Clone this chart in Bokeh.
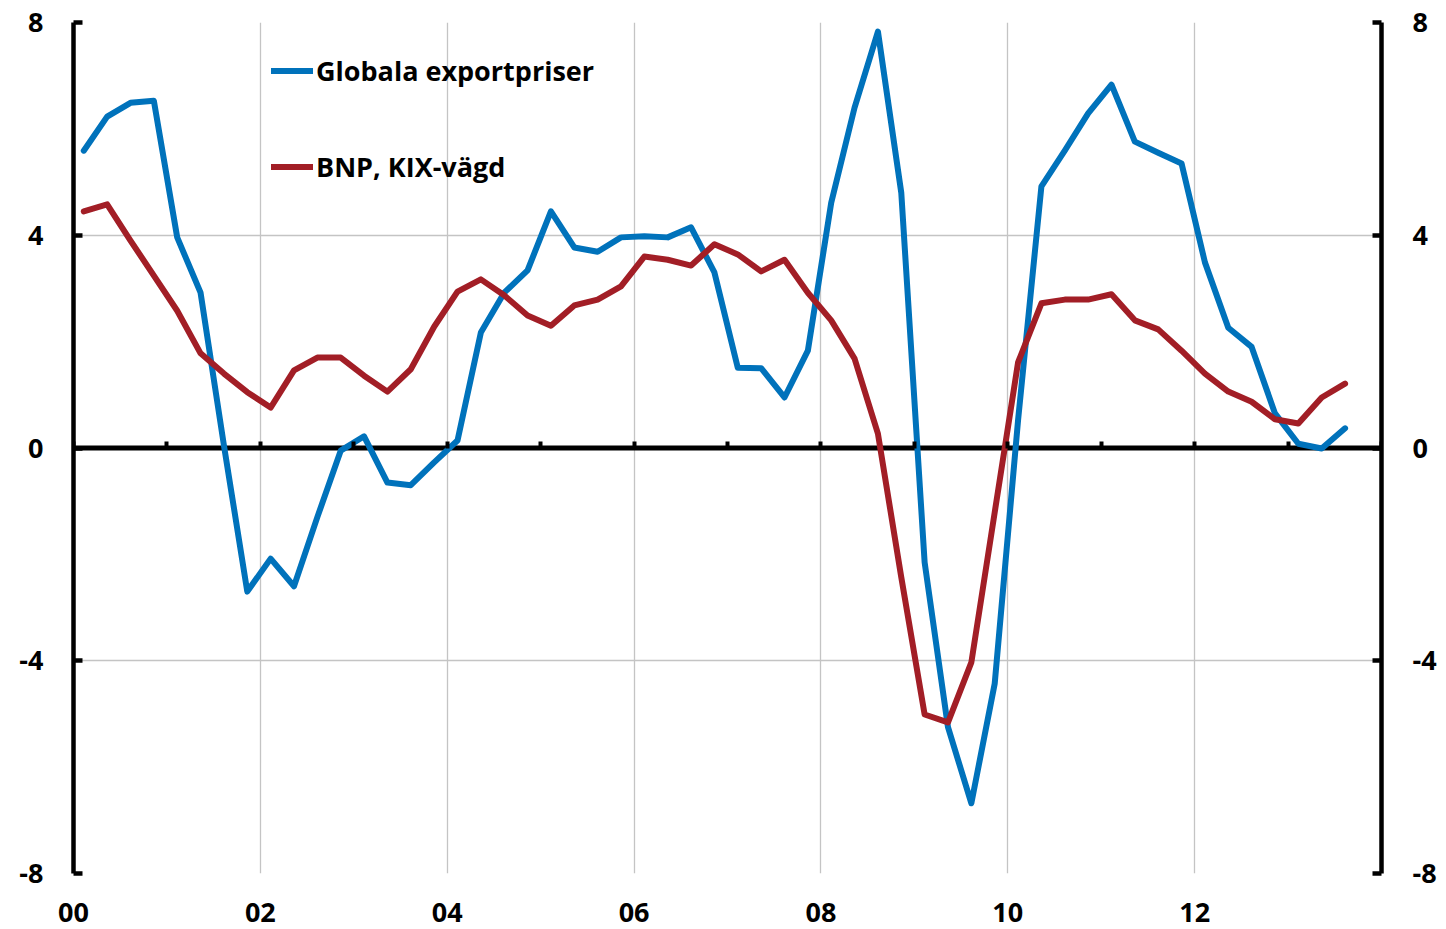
from bokeh.plotting import figure
from bokeh.models import (LinearAxis, FixedTicker, Range1d, Span, Legend, LegendItem)
from bokeh.embed import file_html
from bokeh.resources import INLINE

# ---- data ----
start_year = 2000
globala_exportpriser = [
    5.59, 6.23, 6.49, 6.53,
    3.96, 2.92, 0.05, -2.70,
    -2.08, -2.60, -1.30, -0.05,
    0.22, -0.65, -0.70, -0.27,
    0.14, 2.17, 2.92, 3.34,
    4.45, 3.77, 3.69, 3.96,
    3.98, 3.96, 4.15, 3.30,
    1.51, 1.50, 0.95, 1.83,
    4.61, 6.40, 7.83, 4.80,
    -2.15, -5.25, -6.68, -4.43,
    0.52, 4.92, 5.59, 6.29,
    6.83, 5.76, 5.55, 5.35,
    3.49, 2.26, 1.90, 0.65,
    0.08, -0.01, 0.37,
]
bnp_kix = [
    4.45, 4.58, 3.90, 3.24,
    2.58, 1.78, 1.40, 1.05,
    0.76, 1.46, 1.70, 1.70,
    1.36, 1.06, 1.48, 2.28,
    2.94, 3.17, 2.87, 2.49,
    2.30, 2.68, 2.79, 3.04,
    3.60, 3.54, 3.43, 3.83,
    3.64, 3.32, 3.54, 2.92,
    2.40, 1.68, 0.27, -2.43,
    -5.01, -5.16, -4.03, -1.21,
    1.61, 2.72, 2.79, 2.79,
    2.89, 2.40, 2.23, 1.83,
    1.40, 1.06, 0.87, 0.54,
    0.46, 0.95, 1.21,
]
series_names = ["Globala exportpriser", "BNP, KIX-vägd"]
tick_years = [2000, 2002, 2004, 2006, 2008, 2010, 2012]
tick_labels = ["00", "02", "04", "06", "08", "10", "12"]
y_ticks = [-8, -4, 0, 4, 8]
y_labels = ["-8", "-4", "0", "4", "8"]

# quarter positions (middle of each quarter)
x = [start_year + i / 4 + 0.11 for i in range(len(globala_exportpriser))]

BLUE = "#0072BB"
RED = "#A21E26"
FONT = "Open Sans"
FS = "27px"

W, H = 1446, 929
p = figure(width=W, height=H, output_backend="svg", toolbar_location=None,
           x_range=Range1d(2000, 2014), y_range=Range1d(-8, 8),
           min_border_left=73, min_border_right=W - 1381, min_border_top=22,
           min_border_bottom=H - 873)
p.outline_line_color = None
p.background_fill_color = "white"

# grids
p.xgrid.ticker = FixedTicker(ticks=[2002, 2004, 2006, 2008, 2010, 2012])
p.ygrid.ticker = FixedTicker(ticks=y_ticks)
for g in (p.xgrid, p.ygrid):
    g.grid_line_color = "#C4C4C4"
    g.grid_line_width = 1.3

# zero line
p.add_layout(Span(location=0, dimension="width", line_color="black",
                  line_width=5, level="underlay"))

# bottom axis: labels only
xa = p.xaxis[0]
xa.ticker = FixedTicker(ticks=tick_years)
xa.major_label_overrides = {y: l for y, l in zip(tick_years, tick_labels)}
xa.axis_line_color = None
xa.major_tick_line_color = None
xa.minor_tick_line_color = None
xa.major_label_standoff = 23
xa.major_label_text_font = FONT
xa.major_label_text_font_style = "bold"
xa.major_label_text_font_size = FS
xa.major_label_text_color = "black"

# year ticks on the zero line
zax = LinearAxis(fixed_location=0, ticker=FixedTicker(ticks=list(range(2000, 2015))))
zax.axis_line_color = None
zax.major_tick_in = 0
zax.major_tick_out = 7
zax.major_tick_line_width = 4
zax.major_tick_line_color = "black"
zax.minor_tick_line_color = None
zax.major_label_text_alpha = 0
zax.major_label_text_font_size = "1px"
zax.major_label_standoff = 0
p.add_layout(zax, "above")

# y axes
def style_y(ax, standoff):
    ax.ticker = FixedTicker(ticks=y_ticks)
    ax.major_label_overrides = {t: l for t, l in zip(y_ticks, y_labels)}
    ax.axis_line_width = 4.5
    ax.axis_line_color = "black"
    ax.major_tick_in = 9
    ax.major_tick_out = 0
    ax.major_tick_line_width = 4.5
    ax.major_tick_line_color = "black"
    ax.minor_tick_line_color = None
    ax.major_label_standoff = standoff
    ax.major_label_text_font = FONT
    ax.major_label_text_font_style = "bold"
    ax.major_label_text_font_size = FS
    ax.major_label_text_color = "black"

style_y(p.yaxis[0], 30)
ry = LinearAxis()
style_y(ry, 31)
p.add_layout(ry, "right")

r1 = p.line(x, globala_exportpriser, line_color=BLUE, line_width=6,
            line_join="round", line_cap="round")
r2 = p.line(x, bnp_kix, line_color=RED, line_width=6,
            line_join="round", line_cap="round")

legend = Legend(items=[LegendItem(label=series_names[0], renderers=[r1]),
                       LegendItem(label=series_names[1], renderers=[r2])],
                location=(198, 688), padding=0, margin=0,
                glyph_width=42, glyph_height=37, label_height=37,
                label_standoff=3, spacing=59,
                border_line_color=None, background_fill_alpha=0,
                label_text_font=FONT, label_text_font_style="bold",
                label_text_font_size=FS, label_text_color="black")
p.add_layout(legend)

open("out.html", "w").write(file_html(p, INLINE))
